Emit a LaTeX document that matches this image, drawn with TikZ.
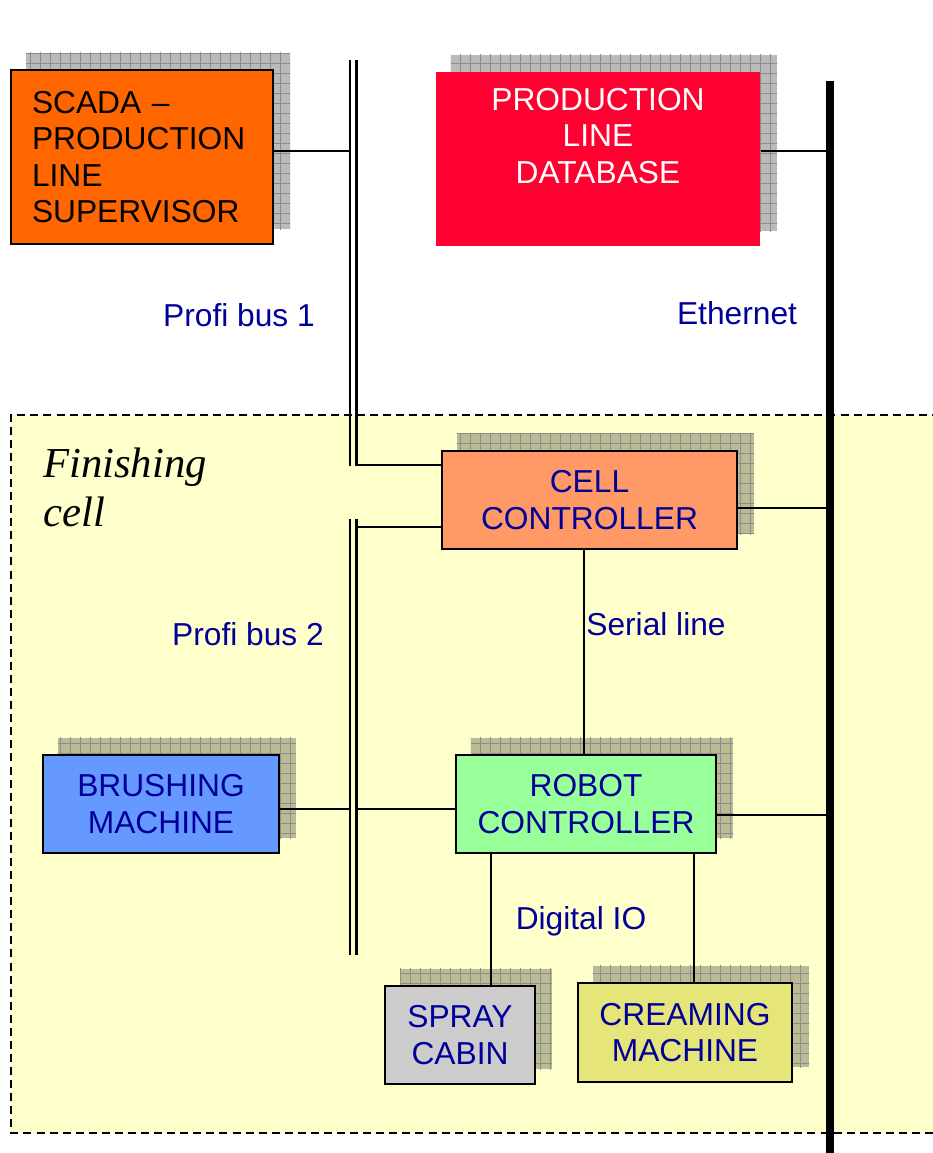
\documentclass[tikz,border=0pt]{standalone}
\usepackage{fontspec}
\setmainfont{Liberation Sans}
\newfontfamily\serifcellfont{Liberation Serif}
\usetikzlibrary{calc,backgrounds,patterns.meta}
\definecolor{scadaorange}{HTML}{FF6600}
\definecolor{dbred}{HTML}{FF0030}
\definecolor{cellsalmon}{HTML}{FF9966}
\definecolor{brushblue}{HTML}{6699FF}
\definecolor{robotgreen}{HTML}{99FF99}
\definecolor{spraygray}{HTML}{CCCCCC}
\definecolor{creamyellow}{HTML}{E5E57A}
\definecolor{cellyellow}{HTML}{FFFFCC}
\definecolor{labelblue}{HTML}{000099}
\newcommand{\boxfont}{\fontsize{23.8pt}{27.4pt}\selectfont}
\newcommand{\finishfont}{\serifcellfont\itshape\fontsize{32pt}{36.75pt}\selectfont}
\newcommand{\boxshadow}[1]{%
    \fill[shadowfill] ($(#1.south west)+(16,-16)$) rectangle ($(#1.north east)+(16,-16)$);
    \fill[shadowgrid] ($(#1.south west)+(16,-16)$) rectangle ($(#1.north east)+(16,-16)$);
}
\tikzset{
    unitbox/.style={
        draw=black,
        line width=1.6pt,
        inner sep=0,
        align=center,
        font=\boxfont,
        text=labelblue,
    },
    shadowfill/.style={
        fill=black,
        fill opacity=0.27,
    },
    shadowgrid/.style={
        pattern={Hatch[distance=7.5pt, line width=0.45pt]},
        pattern color=black!45,
    },
    busline/.style={line width=2pt},
    etherline/.style={line width=6pt},
    link/.style={line width=1.1pt},
    buslabel/.style={
        font=\boxfont,
        text=labelblue,
        inner sep=0,
        anchor=base,
    },
    regionline/.style={
        line width=1.1pt,
        dash pattern=on 6pt off 3.8pt,
    },
}

\begin{document}
\begin{tikzpicture}[x=0.75pt,y=-0.75pt]
    \useasboundingbox (0,0) rectangle (932,1153);

    % boxes
    \node[unitbox, fill=scadaorange, text=black, text width=165pt, align=left,
          minimum width=196.5pt, minimum height=130.5pt] (scada) at (142,157)
          {SCADA –\\PRODUCTION\\LINE\\SUPERVISOR};
    \node[unitbox, draw=none, fill=dbred,
          minimum width=243pt, minimum height=130.5pt] (db) at (598,159) {};
    \node[font=\boxfont, text=white, align=center, inner sep=0] (dbtext) at (598,136)
          {PRODUCTION\\LINE\\DATABASE};
    \node[unitbox, fill=cellsalmon, minimum width=221.25pt, minimum height=73.5pt]
          (cell) at (589.5,500) {CELL\\CONTROLLER};
    \node[unitbox, fill=brushblue, minimum width=177pt, minimum height=73.5pt]
          (brush) at (161,804) {BRUSHING\\MACHINE};
    \node[unitbox, fill=robotgreen, minimum width=195pt, minimum height=73.5pt]
          (robot) at (586,804) {ROBOT\\CONTROLLER};
    \node[unitbox, fill=spraygray, minimum width=112.5pt, minimum height=73.5pt]
          (spray) at (460,1035) {SPRAY\\CABIN};
    \node[unitbox, fill=creamyellow, minimum width=160.5pt, minimum height=74.25pt]
          (cream) at (685,1032.5) {CREAMING\\MACHINE};

    % buses
    \coordinate (pb1) at (350,60);
    \coordinate (pb1r) at (356.5,60);
    \coordinate (pb2) at (350,519);
    \coordinate (pb2r) at (356.5,519);
    \coordinate (eth) at (830,81);
    \foreach \bx in {350,356.5} {
        \draw[busline] (\bx,60) -- (\bx,466);
        \draw[busline] (\bx,519) -- (\bx,955);
    }
    \draw[etherline] (eth) -- (830,1160);

    % links
    \draw[link] ([yshift=4.5pt]scada.east) -- ([yshift=4.5pt]scada.east -| pb1);
    \draw[link] ([yshift=6pt]db.east) -- ([yshift=6pt]db.east -| eth);
    \draw[link] ([yshift=26.25pt]cell.west) -- ([yshift=26.25pt]cell.west -| pb1r);
    \draw[link] ([yshift=-20.25pt]cell.west) -- ([yshift=-20.25pt]cell.west -| pb2r);
    \draw[link] ([yshift=-6pt]cell.east) -- ([yshift=-6pt]cell.east -| eth);
    \draw[link] ([yshift=-3.75pt]brush.east) -- ([yshift=-3.75pt]brush.east -| pb2);
    \draw[link] ([yshift=-3.75pt]robot.west) -- ([yshift=-3.75pt]robot.west -| pb2r);
    \draw[link] ([yshift=-8.25pt]robot.east) -- ([yshift=-8.25pt]robot.east -| eth);
    \draw[link] ([xshift=-1.5pt]robot.north) -- ([xshift=-1.5pt]robot.north |- cell.south);
    \draw[link] ([xshift=23.25pt]spray.north) -- ([xshift=23.25pt]spray.north |- robot.south);
    \draw[link] ([xshift=6.75pt]cream.north) -- ([xshift=6.75pt]cream.north |- robot.south);

    % labels
    \node[buslabel] (pb1label) at (239,326) {Profi bus 1};
    \node[buslabel] (ethlabel) at (737,324) {Ethernet};
    \node[buslabel] (pb2label) at (248,645) {Profi bus 2};
    \node[buslabel] (seriallabel) at (656,635) {Serial line};
    \node[buslabel] (iolabel) at (581,929) {Digital IO};
    \node[font=\finishfont, align=left, inner sep=0, anchor=north west]
          (finishlabel) at (43,448) {Finishing\\cell};

    \begin{pgfonlayer}{background}
        \fill[cellyellow] (11,415) rectangle (940,1133);
        \draw[regionline] (940,415) -- (11,415) -- (11,1133) -- (940,1133);
        \foreach \n in {scada,db,cell,brush,robot,spray,cream} {
            \boxshadow{\n}
        }
    \end{pgfonlayer}
\end{tikzpicture}
\end{document}
